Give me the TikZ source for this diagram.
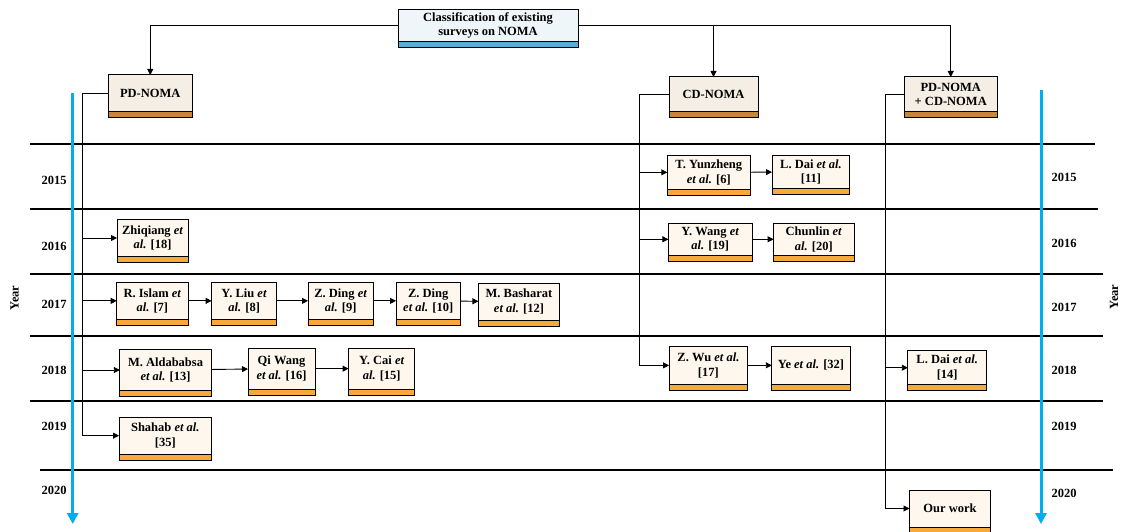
\documentclass[tikz,border=0pt]{standalone}
\usepackage{fontspec}
\setmainfont{Liberation Serif}
\usetikzlibrary{arrows.meta}
\definecolor{topfill}{HTML}{EEF6FA}
\definecolor{topbar}{HTML}{5AAFCF}
\definecolor{catfill}{HTML}{F4EEE4}
\definecolor{catbar}{HTML}{C4883D}
\definecolor{paperfill}{HTML}{FDF7EE}
\definecolor{paperbar}{HTML}{F7A93A}
\definecolor{tlblue}{HTML}{00AEEF}
\tikzset{
  basebox/.style={draw, line width=1pt, inner sep=1pt, outer sep=0pt, align=center,
    font=\fontsize{12.5}{14.5}\selectfont\bfseries},
  topbox/.style={basebox, fill=topfill, font=\fontsize{12.5}{13.5}\selectfont\bfseries},
  topboxbar/.style={draw, line width=1pt, fill=topbar},
  catbox/.style={basebox, fill=catfill, font=\fontsize{12.5}{13.5}\selectfont\bfseries},
  catboxbar/.style={draw, line width=1pt, fill=catbar},
  paper/.style={basebox, fill=paperfill},
  paperbar/.style={draw, line width=1pt, fill=paperbar},
  conn/.style={line width=0.9pt},
  arr/.style={conn, -{Triangle[length=6pt,width=6pt]}},
  sepline/.style={line width=1.6pt},
  yr/.style={font=\fontsize{12.5}{14}\selectfont\bfseries},
  timeline/.style={line width=3pt, draw=tlblue, -{Triangle[length=11pt,width=11pt]}},
}
\newcommand\mybox[7]{%
  \node[#1, minimum width={#5-#3}, minimum height={#6-#4-6}] (#2) at ({(#3+#5)/2},{(#4+#6-6)/2}) {#7};
  \draw[#1bar] (#2.south west) rectangle ([yshift=-6pt]#2.south east);
}
\begin{document}
\begin{tikzpicture}[x=1pt,y=-1pt]
\useasboundingbox (0,0) rectangle (1121,532);
\clip (0,0) rectangle (1121,532);
% separators
\coordinate (s1a) at (30,144);  \coordinate (s1b) at (1095,144);
\coordinate (s2a) at (30,209);  \coordinate (s2b) at (1098,209);
\coordinate (s3a) at (30,274);  \coordinate (s3b) at (1103,274);
\coordinate (s4a) at (30,336);  \coordinate (s4b) at (1103,336);
\coordinate (s5a) at (30,401);  \coordinate (s5b) at (1103,401);
\coordinate (s6a) at (40,470);  \coordinate (s6b) at (1113,470);
\foreach \i in {1,...,6} \draw[sepline] (s\i a) -- (s\i b);
% timelines
\coordinate (tl1) at (72.7,92.7); \coordinate (tl2) at (72.7,524);
\coordinate (tr1) at (1041,90);   \coordinate (tr2) at (1041,524);
\draw[timeline] (tl1) -- (tl2);
\draw[timeline] (tr1) -- (tr2);
% years
\node[yr] (yl15) at (54,180) {2015};
\node[yr] (yl16) at (54,246.7) {2016};
\node[yr] (yl17) at (54,304) {2017};
\node[yr] (yl18) at (54,370.7) {2018};
\node[yr] (yl19) at (54,426.7) {2019};
\node[yr] (yl20) at (54,490.7) {2020};
\node[yr] (yr15) at (1064,177.3) {2015};
\node[yr] (yr16) at (1064,243.3) {2016};
\node[yr] (yr17) at (1064,307.7) {2017};
\node[yr] (yr18) at (1064,370.7) {2018};
\node[yr] (yr19) at (1064,426.7) {2019};
\node[yr] (yr20) at (1064,493.3) {2020};
\node[yr, rotate=90] (yearl) at (14.5,298) {Year};
\node[yr, rotate=90] (yearr) at (1114,297) {Year};
% boxes
\mybox{topbox}{top}{398}{9.3}{578}{47.3}{Classification of existing\\surveys on NOMA}
\mybox{catbox}{pd}{108}{75}{192.5}{118}{PD-NOMA}
\mybox{catbox}{cd}{669}{77}{758}{118}{CD-NOMA}
\mybox{catbox}{pdcd}{904.5}{77}{997}{118}{PD-NOMA\\+ CD-NOMA}
\mybox{paper}{zhiqiang}{117}{219.3}{188.3}{262.7}{Zhiqiang \textit{et}\\\textit{al.} [18]}
\mybox{paper}{islam}{116.7}{282.7}{188}{325}{R. Islam \textit{et}\\\textit{al.} [7]}
\mybox{paper}{liu}{211.6}{282.7}{276.7}{325}{Y. Liu \textit{et}\\\textit{al.} [8]}
\mybox{paper}{dingnine}{308}{282.7}{373.5}{325}{Z. Ding \textit{et}\\\textit{al.} [9]}
\mybox{paper}{dingten}{396}{282.7}{460.4}{325}{Z. Ding\\\textit{et al.} [10]}
\mybox{paper}{basharat}{478.4}{283.3}{559.5}{326}{M. Basharat\\\textit{et al.} [12]}
\mybox{paper}{alda}{119.8}{349.3}{211.3}{396.7}{M. Aldababsa\\\textit{et al.} [13]}
\mybox{paper}{qiwang}{248}{348}{315}{395.3}{Qi Wang\\\textit{et al.} [16]}
\mybox{paper}{cai}{348.6}{348}{414.8}{395.3}{Y. Cai \textit{et}\\\textit{al.} [15]}
\mybox{paper}{shahab}{119}{417.3}{211.6}{460}{Shahab \textit{et al.}\\ {[35]}}
\mybox{paper}{tyun}{667.3}{155.7}{750.3}{195}{T. Yunzheng\\\textit{et al.} [6]}
\mybox{paper}{ldaiA}{772}{155.7}{849.8}{194.3}{L. Dai \textit{et al.}\\ {[11]}}
\mybox{paper}{ywang}{668.4}{223.3}{752}{261.3}{Y. Wang \textit{et}\\\textit{al.} [19]}
\mybox{paper}{chunlin}{773.6}{223.3}{854}{261.3}{Chunlin \textit{et}\\\textit{al.} [20]}
\mybox{paper}{zwu}{669}{346.7}{747.8}{390}{Z. Wu \textit{et al.}\\ {[17]}}
\mybox{paper}{ye}{771.8}{346.7}{850.2}{390}{Ye \textit{et al.} [32]}
\mybox{paper}{ldaiB}{907.8}{350.7}{986.5}{390.7}{L. Dai \textit{et al.}\\ {[14]}}
\mybox{paper}{our}{909.5}{490}{990.4}{533}{Our work}
% top connectors
\draw[arr] (top.west) -| (pd.north);
\draw[arr] (top.east) -| (pdcd.north);
\draw[arr] (cd.north |- top.east) -- (cd.north);
% PD branch
\coordinate (pdx) at (82.7,0);
\draw[conn] (pd.west) -| (pdx |- shahab.west);
\foreach \n in {zhiqiang,islam,alda,shahab} \draw[arr] (pdx |- \n.west) -- (\n.west);
% CD branch
\coordinate (cdx) at (639.4,0);
\draw[conn] (cd.west) -| (cdx |- zwu.west);
\foreach \n in {tyun,ywang,zwu} \draw[arr] (cdx |- \n.west) -- (\n.west);
% PD+CD branch
\coordinate (pcx) at (885,0);
\draw[conn] (pdcd.west) -| (pcx |- our.west);
\foreach \n in {ldaiB,our} \draw[arr] (pcx |- \n.west) -- (\n.west);
% chains
\draw[arr] (islam) -- (liu);
\draw[arr] (liu) -- (dingnine);
\draw[arr] (dingnine) -- (dingten);
\draw[arr] (dingten) -- (basharat);
\draw[arr] (alda) -- (qiwang);
\draw[arr] (qiwang) -- (cai);
\draw[arr] (tyun) -- (ldaiA);
\draw[arr] (ywang) -- (chunlin);
\draw[arr] (zwu) -- (ye);
\end{tikzpicture}
\end{document}
